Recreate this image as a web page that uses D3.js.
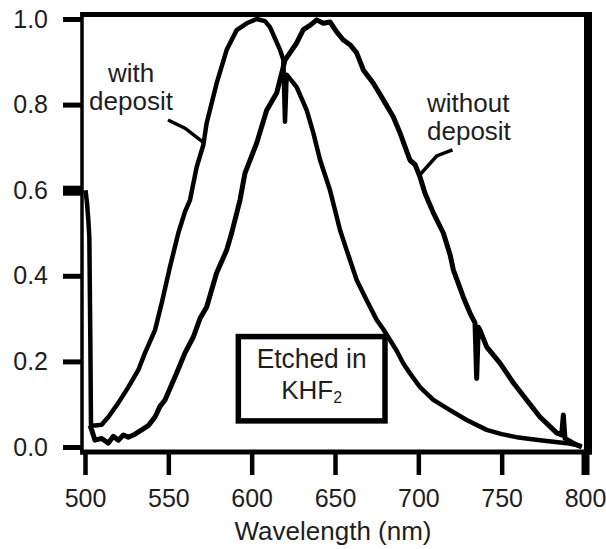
<!DOCTYPE html>
<html>
<head>
<meta charset="utf-8">
<script src="https://cdn.jsdelivr.net/npm/d3@7"></script>
<style>
  html, body { margin: 0; padding: 0; background: #fff; }
  svg { display: block; }
  text { font-family: "Liberation Sans", Arial, Helvetica, sans-serif; fill: #1e1e1e; }
</style>
</head>
<body>
<svg id="chart" width="606" height="549"></svg>
<script>
// Normalized photoluminescence spectra, wavelength (nm) vs intensity
const withDepositWl = [500.3, 501.2, 502.0, 502.6, 503.2, 503.6, 506, 510, 514, 520, 526, 532, 536, 542, 546, 551, 556, 560, 563, 567, 571, 573, 579, 585, 591, 597, 603, 608, 611, 617, 619, 620, 621, 627, 633, 637, 641, 647, 653, 657, 663, 669, 675, 679, 683, 687, 691, 695, 701, 709, 719, 729, 741, 750, 759, 773, 789, 798];
const withDepositI  = [0.60, 0.57, 0.53, 0.49, 0.25, 0.05, 0.050, 0.052, 0.070, 0.103, 0.140, 0.180, 0.220, 0.273, 0.336, 0.421, 0.500, 0.550, 0.577, 0.654, 0.706, 0.757, 0.850, 0.928, 0.974, 0.990, 1.000, 0.995, 0.981, 0.928, 0.905, 0.760, 0.870, 0.841, 0.787, 0.734, 0.671, 0.600, 0.507, 0.460, 0.390, 0.343, 0.297, 0.275, 0.250, 0.225, 0.195, 0.172, 0.140, 0.110, 0.086, 0.063, 0.040, 0.030, 0.023, 0.016, 0.009, 0.002];

const withoutDepositWl = [503, 504, 506, 510, 514, 517, 520, 523, 526, 530, 534, 538, 542, 545, 548, 555, 560, 565, 569, 573, 579, 585, 588, 593, 596, 603, 609, 615, 620, 627, 631, 635, 639, 643, 647, 651, 655, 659, 663, 667, 673, 679, 685, 689, 695, 698, 701, 704, 709, 715, 719, 721, 727, 731, 734, 735, 736, 737, 741, 749, 757, 765, 773, 783, 786, 787, 788, 793, 798];
const withoutDepositI  = [0.05, 0.04, 0.016, 0.020, 0.009, 0.025, 0.016, 0.028, 0.023, 0.030, 0.040, 0.050, 0.070, 0.095, 0.110, 0.173, 0.220, 0.257, 0.300, 0.327, 0.407, 0.460, 0.500, 0.577, 0.640, 0.710, 0.787, 0.827, 0.904, 0.944, 0.975, 0.985, 0.998, 0.990, 0.993, 0.970, 0.951, 0.940, 0.921, 0.881, 0.850, 0.811, 0.771, 0.734, 0.670, 0.660, 0.631, 0.593, 0.547, 0.500, 0.450, 0.414, 0.350, 0.313, 0.290, 0.160, 0.280, 0.273, 0.234, 0.196, 0.150, 0.110, 0.070, 0.033, 0.028, 0.075, 0.020, 0.009, 0.000];

const xTicks = [500, 550, 600, 650, 700, 750, 800];
const yTicks = [0.0, 0.2, 0.4, 0.6, 0.8, 1.0];

const svg = d3.select("#chart");

const x = d3.scaleLinear().domain([500, 800]).range([85, 585]);
const y = d3.scaleLinear().domain([0, 1]).range([447, 19]);

const frame = { left: 82, top: 14.5, right: 588, bottom: 452 };

// Frame around the plot area
const fg = svg.append("g").attr("stroke", "#000").attr("fill", "none");
fg.append("line").attr("x1", frame.left).attr("x2", frame.left).attr("y1", frame.top - 2.5).attr("y2", frame.bottom + 2.5).attr("stroke-width", 3.5);
fg.append("line").attr("x1", frame.left - 1.75).attr("x2", frame.right + 4).attr("y1", frame.top).attr("y2", frame.top).attr("stroke-width", 5);
fg.append("line").attr("x1", frame.right).attr("x2", frame.right).attr("y1", frame.top - 2.5).attr("y2", frame.bottom + 2.5).attr("stroke-width", 8);
fg.append("line").attr("x1", frame.left - 1.75).attr("x2", frame.right + 4).attr("y1", frame.bottom).attr("y2", frame.bottom).attr("stroke-width", 5);

// Y axis: ticks sit outside the frame, to the left
const yAxis = svg.append("g")
  .attr("transform", `translate(${frame.left},0)`)
  .call(d3.axisLeft(y).tickValues(yTicks).tickSize(19).tickPadding(15).tickFormat(d3.format(".1f")));
yAxis.select(".domain").remove();
yAxis.selectAll(".tick line").attr("stroke", "#000").attr("stroke-width", d => d === 0.6 ? 10 : 5);
yAxis.selectAll(".tick text").attr("font-size", 25).attr("fill", "#1e1e1e")
  .style("font-family", '"Liberation Sans", Arial, sans-serif');

// X axis: ticks hang below the frame
const xAxis = svg.append("g")
  .attr("transform", `translate(0,${frame.bottom})`)
  .call(d3.axisBottom(x).tickValues(xTicks).tickSize(23).tickPadding(14).tickFormat(d3.format("d")));
xAxis.select(".domain").remove();
xAxis.selectAll(".tick line").attr("stroke", "#000").attr("stroke-width", d => d === 800 ? 8 : 4.5);
xAxis.selectAll(".tick text").attr("font-size", 25).attr("fill", "#1e1e1e")
  .style("font-family", '"Liberation Sans", Arial, sans-serif');

svg.append("text")
  .attr("x", (x.range()[0] + x.range()[1]) / 2 - 2)
  .attr("y", 540)
  .attr("text-anchor", "middle")
  .attr("font-size", 26)
  .text("Wavelength (nm)");

// Spectra
const line = d3.line().x(d => x(d[0])).y(d => y(d[1])).curve(d3.curveLinear);
const withData = withDepositWl.map((w, i) => [w, withDepositI[i]]);
const withoutData = withoutDepositWl.map((w, i) => [w, withoutDepositI[i]]);

svg.append("path").datum(withData)
  .attr("d", line).attr("fill", "none").attr("stroke", "#000")
  .attr("stroke-width", 4.5).attr("stroke-linejoin", "round");
svg.append("path").datum(withoutData)
  .attr("d", line).attr("fill", "none").attr("stroke", "#000")
  .attr("stroke-width", 5).attr("stroke-linejoin", "round");

// Curve labels with leader lines
const label = (lines, xv, yv, anchor) => {
  const t = svg.append("text").attr("font-size", 26).attr("text-anchor", anchor);
  lines.forEach((s, i) => {
    t.append("tspan").attr("x", x(xv)).attr("y", y(yv) + i * 28).text(s);
  });
};
label(["with", "deposit"], 527.6, 0.853, "middle");
label(["without", "deposit"], 705.2, 0.783, "start");

svg.append("path")
  .attr("d", d3.line()([[x(549.8), y(0.764)], [x(560), y(0.745)], [x(571), y(0.712)]]))
  .attr("fill", "none").attr("stroke", "#000").attr("stroke-width", 3.5);
svg.append("path")
  .attr("d", d3.line()([[x(720.5), y(0.694)], [x(711), y(0.680)], [x(700), y(0.632)]]))
  .attr("fill", "none").attr("stroke", "#000").attr("stroke-width", 3.5);

// Sample treatment note
const box = { x0: 592, x1: 680, y0: 0.258, y1: 0.061 };
svg.append("rect")
  .attr("x", x(box.x0)).attr("y", y(box.y0))
  .attr("width", x(box.x1) - x(box.x0)).attr("height", y(box.y1) - y(box.y0))
  .attr("fill", "#fff").attr("stroke", "#000").attr("stroke-width", 5.5);
const cx = (x(box.x0) + x(box.x1)) / 2;
svg.append("text").attr("x", cx).attr("y", 368).attr("text-anchor", "middle")
  .attr("font-size", 27).attr("textLength", 110).attr("lengthAdjust", "spacingAndGlyphs")
  .text("Etched in");
const k = svg.append("text").attr("x", cx).attr("y", 399).attr("text-anchor", "middle").attr("font-size", 26);
k.append("tspan").text("KHF");
k.append("tspan").attr("font-size", 16).attr("dy", 4).text("2");
</script>
</body>
</html>
